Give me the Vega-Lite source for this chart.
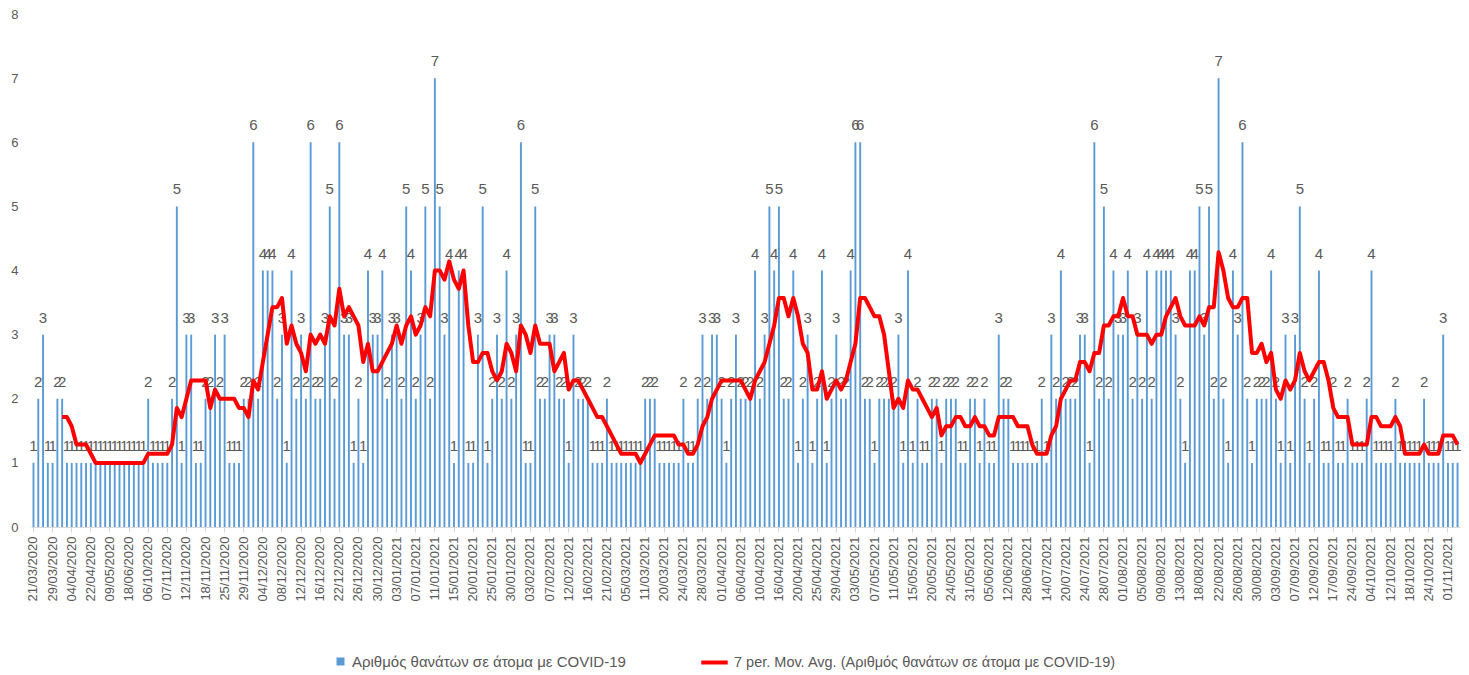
{
"$schema": "https://vega.github.io/schema/vega-lite/v6.json",
"width": 1429, "height": 513,
"autosize": {"type": "none"},
"padding": {"left": 31, "top": 14, "right": 9, "bottom": 148},
"background": "white",
"config": {"view": {"stroke": null}, "font": "Liberation Sans"},
"data": {"values": [
{"d":"21/03/2020","v":1},{"d":"23/03/2020","v":2},{"d":"25/03/2020","v":3},{"d":"27/03/2020","v":1},
{"d":"29/03/2020","v":1},{"d":"31/03/2020","v":2},{"d":"01/04/2020","v":2},{"d":"02/04/2020","v":1},
{"d":"04/04/2020","v":1},{"d":"08/04/2020","v":1},{"d":"13/04/2020","v":1},{"d":"17/04/2020","v":1},
{"d":"22/04/2020","v":1},{"d":"26/04/2020","v":1},{"d":"30/04/2020","v":1},{"d":"04/05/2020","v":1},
{"d":"09/05/2020","v":1},{"d":"18/05/2020","v":1},{"d":"28/05/2020","v":1},{"d":"07/06/2020","v":1},
{"d":"18/06/2020","v":1},{"d":"10/07/2020","v":1},{"d":"05/08/2020","v":1},{"d":"09/09/2020","v":1},
{"d":"06/10/2020","v":2},{"d":"16/10/2020","v":1},{"d":"24/10/2020","v":1},{"d":"31/10/2020","v":1},
{"d":"07/11/2020","v":1},{"d":"08/11/2020","v":2},{"d":"09/11/2020","v":5},{"d":"11/11/2020","v":1},
{"d":"12/11/2020","v":3},{"d":"14/11/2020","v":3},{"d":"15/11/2020","v":1},{"d":"17/11/2020","v":1},
{"d":"18/11/2020","v":2},{"d":"20/11/2020","v":2},{"d":"21/11/2020","v":3},{"d":"23/11/2020","v":2},
{"d":"25/11/2020","v":3},{"d":"26/11/2020","v":1},{"d":"27/11/2020","v":1},{"d":"28/11/2020","v":1},
{"d":"29/11/2020","v":2},{"d":"01/12/2020","v":2},{"d":"02/12/2020","v":6},{"d":"03/12/2020","v":2},
{"d":"04/12/2020","v":4},{"d":"05/12/2020","v":4},{"d":"06/12/2020","v":4},{"d":"07/12/2020","v":2},
{"d":"08/12/2020","v":3},{"d":"09/12/2020","v":1},{"d":"10/12/2020","v":4},{"d":"11/12/2020","v":2},
{"d":"12/12/2020","v":3},{"d":"13/12/2020","v":2},{"d":"14/12/2020","v":6},{"d":"15/12/2020","v":2},
{"d":"16/12/2020","v":2},{"d":"18/12/2020","v":3},{"d":"19/12/2020","v":5},{"d":"21/12/2020","v":2},
{"d":"22/12/2020","v":6},{"d":"23/12/2020","v":3},{"d":"24/12/2020","v":3},{"d":"25/12/2020","v":1},
{"d":"26/12/2020","v":2},{"d":"27/12/2020","v":1},{"d":"28/12/2020","v":4},{"d":"29/12/2020","v":3},
{"d":"30/12/2020","v":3},{"d":"31/12/2020","v":4},{"d":"01/01/2021","v":2},{"d":"02/01/2021","v":3},
{"d":"03/01/2021","v":3},{"d":"04/01/2021","v":2},{"d":"05/01/2021","v":5},{"d":"06/01/2021","v":4},
{"d":"07/01/2021","v":2},{"d":"08/01/2021","v":3},{"d":"09/01/2021","v":5},{"d":"10/01/2021","v":2},
{"d":"11/01/2021","v":7},{"d":"12/01/2021","v":5},{"d":"13/01/2021","v":3},{"d":"14/01/2021","v":4},
{"d":"15/01/2021","v":1},{"d":"16/01/2021","v":4},{"d":"17/01/2021","v":4},{"d":"19/01/2021","v":1},
{"d":"20/01/2021","v":1},{"d":"21/01/2021","v":3},{"d":"22/01/2021","v":5},{"d":"24/01/2021","v":1},
{"d":"25/01/2021","v":2},{"d":"26/01/2021","v":3},{"d":"28/01/2021","v":2},{"d":"29/01/2021","v":4},
{"d":"30/01/2021","v":2},{"d":"31/01/2021","v":3},{"d":"01/02/2021","v":6},{"d":"02/02/2021","v":1},
{"d":"03/02/2021","v":1},{"d":"04/02/2021","v":5},{"d":"05/02/2021","v":2},{"d":"06/02/2021","v":2},
{"d":"07/02/2021","v":3},{"d":"08/02/2021","v":3},{"d":"09/02/2021","v":2},{"d":"11/02/2021","v":2},
{"d":"12/02/2021","v":1},{"d":"13/02/2021","v":3},{"d":"14/02/2021","v":2},{"d":"15/02/2021","v":2},
{"d":"16/02/2021","v":2},{"d":"17/02/2021","v":1},{"d":"18/02/2021","v":1},{"d":"20/02/2021","v":1},
{"d":"21/02/2021","v":2},{"d":"23/02/2021","v":1},{"d":"26/02/2021","v":1},{"d":"02/03/2021","v":1},
{"d":"05/03/2021","v":1},{"d":"07/03/2021","v":1},{"d":"08/03/2021","v":1},{"d":"10/03/2021","v":1},
{"d":"11/03/2021","v":2},{"d":"12/03/2021","v":2},{"d":"13/03/2021","v":2},{"d":"16/03/2021","v":1},
{"d":"20/03/2021","v":1},{"d":"21/03/2021","v":1},{"d":"22/03/2021","v":1},{"d":"23/03/2021","v":1},
{"d":"24/03/2021","v":2},{"d":"25/03/2021","v":1},{"d":"26/03/2021","v":1},{"d":"27/03/2021","v":2},
{"d":"28/03/2021","v":3},{"d":"29/03/2021","v":2},{"d":"30/03/2021","v":3},{"d":"31/03/2021","v":3},
{"d":"01/04/2021","v":2},{"d":"02/04/2021","v":1},{"d":"04/04/2021","v":2},{"d":"05/04/2021","v":3},
{"d":"06/04/2021","v":2},{"d":"07/04/2021","v":2},{"d":"08/04/2021","v":2},{"d":"09/04/2021","v":4},
{"d":"10/04/2021","v":2},{"d":"12/04/2021","v":3},{"d":"14/04/2021","v":5},{"d":"15/04/2021","v":4},
{"d":"16/04/2021","v":5},{"d":"17/04/2021","v":2},{"d":"18/04/2021","v":2},{"d":"19/04/2021","v":4},
{"d":"20/04/2021","v":1},{"d":"21/04/2021","v":2},{"d":"22/04/2021","v":3},{"d":"24/04/2021","v":1},
{"d":"25/04/2021","v":2},{"d":"26/04/2021","v":4},{"d":"27/04/2021","v":1},{"d":"28/04/2021","v":2},
{"d":"29/04/2021","v":3},{"d":"30/04/2021","v":2},{"d":"01/05/2021","v":2},{"d":"02/05/2021","v":4},
{"d":"03/05/2021","v":6},{"d":"04/05/2021","v":6},{"d":"05/05/2021","v":2},{"d":"06/05/2021","v":2},
{"d":"07/05/2021","v":1},{"d":"08/05/2021","v":2},{"d":"09/05/2021","v":2},{"d":"10/05/2021","v":2},
{"d":"11/05/2021","v":2},{"d":"12/05/2021","v":3},{"d":"13/05/2021","v":1},{"d":"14/05/2021","v":4},
{"d":"15/05/2021","v":1},{"d":"16/05/2021","v":2},{"d":"17/05/2021","v":1},{"d":"19/05/2021","v":1},
{"d":"20/05/2021","v":2},{"d":"21/05/2021","v":2},{"d":"22/05/2021","v":1},{"d":"23/05/2021","v":2},
{"d":"24/05/2021","v":2},{"d":"26/05/2021","v":2},{"d":"28/05/2021","v":1},{"d":"29/05/2021","v":1},
{"d":"31/05/2021","v":2},{"d":"01/06/2021","v":2},{"d":"02/06/2021","v":1},{"d":"04/06/2021","v":2},
{"d":"05/06/2021","v":1},{"d":"07/06/2021","v":1},{"d":"09/06/2021","v":3},{"d":"10/06/2021","v":2},
{"d":"12/06/2021","v":2},{"d":"16/06/2021","v":1},{"d":"19/06/2021","v":1},{"d":"23/06/2021","v":1},
{"d":"28/06/2021","v":1},{"d":"02/07/2021","v":1},{"d":"06/07/2021","v":1},{"d":"10/07/2021","v":2},
{"d":"14/07/2021","v":1},{"d":"15/07/2021","v":3},{"d":"17/07/2021","v":2},{"d":"18/07/2021","v":4},
{"d":"20/07/2021","v":2},{"d":"21/07/2021","v":2},{"d":"22/07/2021","v":2},{"d":"23/07/2021","v":3},
{"d":"24/07/2021","v":3},{"d":"25/07/2021","v":1},{"d":"26/07/2021","v":6},{"d":"27/07/2021","v":2},
{"d":"28/07/2021","v":5},{"d":"29/07/2021","v":2},{"d":"30/07/2021","v":4},{"d":"31/07/2021","v":3},
{"d":"01/08/2021","v":3},{"d":"02/08/2021","v":4},{"d":"03/08/2021","v":2},{"d":"04/08/2021","v":3},
{"d":"05/08/2021","v":2},{"d":"06/08/2021","v":4},{"d":"07/08/2021","v":2},{"d":"08/08/2021","v":4},
{"d":"09/08/2021","v":4},{"d":"10/08/2021","v":4},{"d":"11/08/2021","v":4},{"d":"12/08/2021","v":3},
{"d":"13/08/2021","v":2},{"d":"14/08/2021","v":1},{"d":"16/08/2021","v":4},{"d":"17/08/2021","v":4},
{"d":"18/08/2021","v":5},{"d":"19/08/2021","v":3},{"d":"20/08/2021","v":5},{"d":"21/08/2021","v":2},
{"d":"22/08/2021","v":7},{"d":"23/08/2021","v":2},{"d":"24/08/2021","v":1},{"d":"25/08/2021","v":4},
{"d":"26/08/2021","v":3},{"d":"27/08/2021","v":6},{"d":"28/08/2021","v":2},{"d":"29/08/2021","v":1},
{"d":"30/08/2021","v":2},{"d":"31/08/2021","v":2},{"d":"01/09/2021","v":2},{"d":"02/09/2021","v":4},
{"d":"03/09/2021","v":2},{"d":"04/09/2021","v":1},{"d":"05/09/2021","v":3},{"d":"06/09/2021","v":1},
{"d":"07/09/2021","v":3},{"d":"08/09/2021","v":5},{"d":"09/09/2021","v":2},{"d":"11/09/2021","v":1},
{"d":"12/09/2021","v":2},{"d":"13/09/2021","v":4},{"d":"14/09/2021","v":1},{"d":"16/09/2021","v":1},
{"d":"17/09/2021","v":2},{"d":"19/09/2021","v":1},{"d":"21/09/2021","v":1},{"d":"22/09/2021","v":2},
{"d":"24/09/2021","v":1},{"d":"26/09/2021","v":1},{"d":"29/09/2021","v":1},{"d":"01/10/2021","v":2},
{"d":"04/10/2021","v":4},{"d":"06/10/2021","v":1},{"d":"08/10/2021","v":1},{"d":"10/10/2021","v":1},
{"d":"12/10/2021","v":1},{"d":"14/10/2021","v":2},{"d":"15/10/2021","v":1},{"d":"17/10/2021","v":1},
{"d":"18/10/2021","v":1},{"d":"20/10/2021","v":1},{"d":"21/10/2021","v":1},{"d":"22/10/2021","v":2},
{"d":"24/10/2021","v":1},{"d":"26/10/2021","v":1},{"d":"28/10/2021","v":1},{"d":"30/10/2021","v":3},
{"d":"01/11/2021","v":1},{"d":"02/11/2021","v":1},{"d":"03/11/2021","v":1}
]},
"encoding": {
  "x": {"field": "d", "type": "ordinal", "sort": null, "title": null,
        "scale": {"paddingInner": 0.6, "paddingOuter": 0.32},
        "axis": {"values": ["21/03/2020","29/03/2020","04/04/2020","22/04/2020","09/05/2020","18/06/2020","06/10/2020","07/11/2020","12/11/2020","18/11/2020","25/11/2020","29/11/2020","04/12/2020","08/12/2020","12/12/2020","16/12/2020","22/12/2020","26/12/2020","30/12/2020","03/01/2021","07/01/2021","11/01/2021","15/01/2021","20/01/2021","25/01/2021","30/01/2021","03/02/2021","07/02/2021","12/02/2021","16/02/2021","21/02/2021","05/03/2021","11/03/2021","20/03/2021","24/03/2021","28/03/2021","01/04/2021","06/04/2021","10/04/2021","16/04/2021","20/04/2021","25/04/2021","29/04/2021","03/05/2021","07/05/2021","11/05/2021","15/05/2021","20/05/2021","24/05/2021","31/05/2021","05/06/2021","12/06/2021","28/06/2021","14/07/2021","20/07/2021","24/07/2021","28/07/2021","01/08/2021","05/08/2021","09/08/2021","13/08/2021","18/08/2021","22/08/2021","26/08/2021","30/08/2021","03/09/2021","07/09/2021","12/09/2021","17/09/2021","24/09/2021","04/10/2021","12/10/2021","18/10/2021","24/10/2021","01/11/2021"],
          "labelAngle": -90, "labelFontSize": 13, "labelColor": "#595959", "labelPadding": 4,
          "domainColor": "#d9d9d9", "domainWidth": 1, "tickColor": "#d9d9d9", "tickSize": 5, "labelOverlap": false, "grid": false}},
  "y": {"field": "v", "type": "quantitative", "title": null,
        "scale": {"domain": [0, 8], "nice": false},
        "axis": {"values": [0,1,2,3,4,5,6,7,8], "domain": false, "ticks": false, "grid": false,
                 "labelFontSize": 13, "labelColor": "#595959", "labelPadding": 13}}
},
"layer": [
  {"mark": {"type": "bar"},
   "encoding": {"color": {"datum": "Αριθμός θανάτων σε άτομα με COVID-19",
      "scale": {"range": ["#5B9BD5"]},
      "legend": {"orient": "none", "legendX": 302, "legendY": 640, "title": null, "symbolType": "square", "symbolSize": 64,
                 "labelFontSize": 15, "labelColor": "#595959", "labelLimit": 700}}}},
  {"mark": {"type": "text", "dy": -17, "fontSize": 15, "color": "#595959"},
   "encoding": {"text": {"field": "v", "type": "quantitative"}}},
  {"transform": [
     {"window": [{"op": "mean", "field": "v", "as": "ma"}, {"op": "count", "as": "n"}], "frame": [-6, 0]},
     {"filter": "datum.n >= 7"}],
   "mark": {"type": "line", "strokeWidth": 4, "strokeJoin": "round"},
   "encoding": {
     "y": {"field": "ma", "type": "quantitative", "title": null,
           "axis": {"values": [0,1,2,3,4,5,6,7,8], "domain": false, "ticks": false, "grid": false,
                    "labelFontSize": 13, "labelColor": "#595959", "labelPadding": 13}},
     "stroke": {"datum": "7 per. Mov. Avg. (Αριθμός θανάτων σε άτομα με COVID-19)",
       "scale": {"range": ["#FF0000"]},
       "legend": {"orient": "none", "legendX": 668, "legendY": 633, "title": null, "symbolType": "stroke", "symbolStrokeWidth": 4, "symbolSize": 700,
                  "labelFontSize": 14.5, "labelColor": "#595959", "labelLimit": 800}}}}
]
}
